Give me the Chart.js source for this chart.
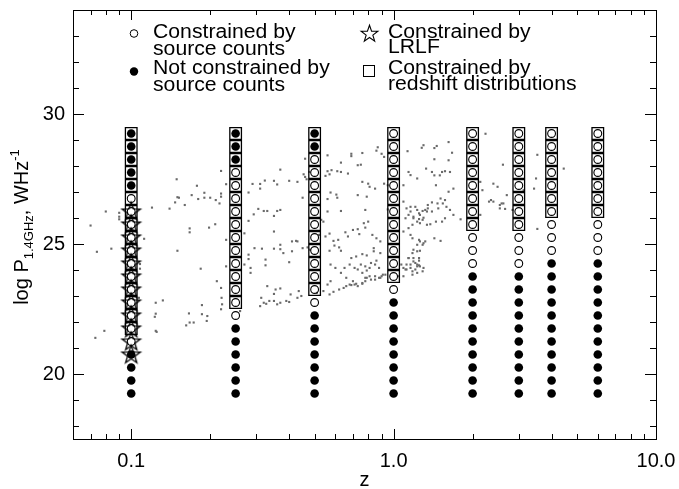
<!DOCTYPE html>
<html><head><meta charset="utf-8">
<script src="https://cdn.jsdelivr.net/npm/chart.js@4.4.1/dist/chart.umd.min.js"></script>
<style>html,body{margin:0;padding:0;background:#fff}canvas{display:block}</style>
</head><body>
<canvas id="c" width="679" height="489"></canvas>
<script>
// ---- data ----
const redshifts = [0.1, 0.25, 0.5, 1.0, 2, 3, 4, 6];
const powerLevels = [19.25, 19.75, 20.25, 20.75, 21.25, 21.75, 22.25, 22.75, 23.25, 23.75, 24.25,
  24.75, 25.25, 25.75, 26.25, 26.75, 27.25, 27.75, 28.25, 28.75, 29.25];
// range of log P constrained by source counts, per redshift
const countsLow  = [21.25, 22.25, 22.75, 23.25, 24.25, 24.25, 24.75, 24.75];
const countsHigh = [26.75, 27.75, 28.25, 29.25, 29.25, 29.25, 29.25, 29.25];
// range constrained by redshift distributions
const zdistLow  = [21.75, 22.75, 23.25, 23.75, 25.75, 25.75, 26.25, 26.25];
const zdistHigh = [29.25, 29.25, 29.25, 29.25, 29.25, 29.25, 29.25, 29.25];
// range constrained by the local radio luminosity function
const lrlfRedshift = 0.1;
const lrlfLow = 20.75;
const lrlfHigh = 26.25;
// axis ticks
const yTickValues = [20, 25, 30];
const xTickValues = [0.1, 1, 10];
const xTickLabels = ['0.1', '1.0', '10.0'];
// individual sources (z, log P)
const sources = [
[0.070,25.71],[0.074,24.70],[0.073,21.39],[0.079,21.66],[0.080,26.25],[0.084,24.82],[0.090,26.20],[0.090,26.05],[0.090,25.95],
[0.112,25.20],[0.108,24.23],[0.108,24.05],[0.107,22.93],[0.120,26.40],[0.124,22.74],[0.124,22.32],[0.123,22.20],[0.124,21.66],
[0.125,21.62],[0.132,22.83],[0.140,26.36],[0.147,26.60],[0.149,27.49],[0.150,26.80],[0.152,26.78],[0.150,24.74],[0.160,26.50],
[0.167,25.60],[0.167,25.45],[0.170,26.88],[0.178,27.24],[0.180,26.73],[0.184,24.05],[0.190,26.97],[0.190,26.78],[0.200,26.78],
[0.198,25.63],[0.209,25.76],[0.210,26.69],[0.217,26.56],[0.220,26.94],[0.220,26.82],[0.220,27.81],[0.230,27.30],[0.230,25.16],
[0.230,24.14],[0.212,23.57],[0.220,23.31],[0.221,22.93],[0.222,22.68],[0.220,22.49],[0.186,22.65],[0.186,22.30],[0.195,22.23],
[0.194,22.04],[0.173,21.98],[0.167,21.98],[0.162,21.87],[0.166,22.33],[0.260,22.42],
[0.87,28.72],[0.86,28.59],[0.90,28.47],[0.92,28.35],[1.30,28.80],[1.28,28.70],[1.13,28.57],[0.69,28.47],[0.69,28.38],[0.76,28.50],
[0.73,28.03],[0.75,28.05],[0.63,28.13],[0.67,27.71],[0.63,27.77],[0.61,27.80],[0.58,27.84],[0.56,27.80],[0.57,27.68],[0.55,27.62],
[0.56,28.41],[0.46,28.28],[0.37,27.86],[0.454,27.68],[0.46,27.58],[0.466,27.49],[0.477,27.77],[0.43,27.39],[0.40,27.43],[0.323,27.44],
[0.31,27.31],[0.29,27.31],[0.31,27.13],[0.35,27.43],[0.36,27.29],[0.28,26.98],[0.37,26.31],[0.305,26.35],[0.32,26.27],[0.33,26.27],
[0.35,26.08],[0.36,26.27],[0.293,26.14],[0.28,25.89],[0.45,26.78],[0.35,25.48],[0.295,24.84],[0.315,24.82],[0.35,24.82],[0.37,24.80],
[0.37,24.97],[0.38,24.65],[0.41,24.72],[0.41,25.10],[0.425,25.12],[0.43,25.10],[0.45,24.84],[0.325,24.40],[0.325,24.18],[0.40,24.30],
[0.28,24.59],[0.28,24.42],[0.27,25.41],[0.285,24.08],[0.285,23.89],[0.47,24.87],[0.48,24.78],[0.52,25.35],[0.55,25.29],[0.57,25.40],
[0.57,24.74],[0.595,24.94],[0.615,25.16],[0.655,25.45],[0.70,25.54],[0.73,25.57],[0.77,25.80],[0.80,25.86],[0.78,25.63],[0.74,25.38],
[0.67,25.29],[0.62,24.87],[0.63,24.74],[0.59,25.12],[0.83,25.35],[0.86,25.22],[0.89,25.10],[0.84,24.84],[0.76,27.39],[0.80,27.32],
[0.81,27.20],[0.85,27.13],[0.78,26.31],[0.73,26.88],[0.79,26.82],[0.575,26.98],[0.605,26.90],[0.61,26.78],[0.56,26.73],[0.56,26.25],
[0.63,26.27],[0.53,25.93],[0.54,25.86],
[0.313,22.93],[0.32,22.74],[0.336,22.81],[0.35,22.81],[0.36,22.68],[0.37,22.74],[0.39,22.81],[0.40,22.77],[0.43,22.93],[0.445,23.00],
[0.435,23.19],[0.405,23.06],[0.33,23.38],[0.355,23.25],[0.37,23.29],[0.35,23.08],[0.31,22.61],[0.327,22.70],[0.27,24.21],
[0.51,23.12],[0.54,23.19],[0.57,23.06],[0.59,23.16],[0.62,23.25],[0.645,23.31],[0.66,23.38],[0.68,23.44],[0.71,23.44],[0.73,23.38],
[0.76,23.47],[0.78,23.57],[0.79,23.70],[0.81,23.76],[0.85,23.63],[0.88,23.70],[0.90,23.76],[0.93,23.82],[0.66,23.70],[0.70,23.57],
[0.73,24.02],[0.76,23.89],[0.79,23.98],[0.81,24.08],[0.85,24.21],[0.88,24.08],[0.68,24.21],[0.65,24.08],[0.63,23.89],[0.575,23.57],
[0.56,23.44],[0.60,24.08],[0.575,24.21],[0.69,24.46],[0.72,24.52],[0.76,24.61],[0.86,24.36],[0.82,24.27],[0.72,23.47],[0.89,23.70],
[0.69,23.42],[0.76,23.50],[0.78,23.70],[0.82,23.63],[0.85,23.76],[0.91,23.82],[0.71,24.08],[0.75,24.21],[0.78,24.14],[0.79,24.56],
[0.84,24.72],[0.89,24.65],[1.07,24.21],[1.21,24.27],[1.25,24.18],[1.11,24.02],[1.18,23.95],[1.23,23.89],[1.14,24.46],[1.25,24.46],
[1.09,26.63],[1.12,26.37],[1.16,26.25],[1.19,26.05],[1.21,26.43],[1.23,26.31],[1.26,26.12],[1.29,25.93],[1.34,25.74],[1.23,25.86],
[1.18,25.74],[1.14,25.61],[1.11,25.99],[1.09,25.48],[1.18,25.22],[1.25,25.16],[1.29,24.97],[1.32,25.10],[1.23,24.72],[1.18,24.65],
[1.14,24.46],[1.19,24.33],[1.23,24.21],[1.26,24.14],[1.30,24.08],[1.12,24.21],[1.09,24.08],[1.16,24.08],[1.21,24.02],[1.18,23.82],
[1.09,23.76],[1.04,23.76],[1.33,27.90],[1.23,27.52],[1.14,27.77],[1.35,26.50],[0.95,27.26],[0.92,27.32],[0.95,26.33],
[1.43,28.69],[1.46,28.77],[1.62,28.92],[1.67,28.51],[1.43,28.26],[1.62,28.22],[1.40,27.77],[1.43,27.64],[1.50,27.64],[1.53,27.77],
[1.57,27.80],[1.64,27.77],[1.16,27.65],[1.69,27.13],[1.62,27.01],[1.45,27.26],[1.09,27.26],[1.51,26.75],[1.57,26.69],[1.54,26.56],
[1.47,26.56],[1.40,26.60],[1.35,26.37],[1.32,26.31],[1.29,26.27],[1.25,26.18],[1.16,26.43],[1.14,26.12],[1.19,25.99],[1.25,25.96],
[1.30,26.01],[1.34,26.25],[1.40,26.25],[1.48,26.37],[1.59,26.43],[1.64,26.31],[1.69,26.12],[1.80,25.95],[1.57,25.99],[1.53,25.86],
[1.45,25.86],[1.38,25.76],[1.26,25.80],[1.26,25.10],[1.30,25.03],[1.23,24.97],[1.19,24.78],[1.26,24.74],[1.43,25.22],[1.51,25.12],
[1.16,25.35],[1.16,24.21],[1.23,24.14],[1.12,24.02],[1.19,24.46],[1.25,24.36],[1.29,23.95],
[2.24,29.24],[2.61,28.05],[3.53,28.43],[4.45,27.90],[2.14,27.39],[2.40,27.32],[2.49,27.20],[2.18,27.07],[2.31,26.63],[2.40,26.63],
[2.54,26.50],[2.62,26.56],[2.70,26.88],[2.66,26.35],[3.43,27.13],[3.49,27.52],[3.53,25.58],[2.14,26.12],[2.35,26.69],[2.58,26.56],
[2.54,26.37],[2.84,26.31],[3.13,27.07]
];

// ---- build point tables ----
const openPts = [], filledPts = [], squarePts = [], starPts = [];
redshifts.forEach((z, i) => {
  powerLevels.forEach(p => {
    if (p >= countsLow[i] && p <= countsHigh[i]) openPts.push({x: z, y: p});
    else filledPts.push({x: z, y: p});
    if (p >= zdistLow[i] && p <= zdistHigh[i]) squarePts.push({x: z, y: p});
  });
});
powerLevels.forEach(p => { if (p >= lrlfLow && p <= lrlfHigh) starPts.push({x: lrlfRedshift, y: p}); });
const sourcePts = sources.map(s => ({x: s[0], y: s[1]}));

function starPath(ctx, cx, cy, R) {
  const r = R * 0.4;
  ctx.beginPath();
  for (let k = 0; k < 10; k++) {
    const a = -Math.PI / 2 + k * Math.PI / 5;
    const rr = k % 2 === 0 ? R : r;
    const px = cx + rr * Math.cos(a), py = cy + rr * Math.sin(a);
    if (k === 0) ctx.moveTo(px, py); else ctx.lineTo(px, py);
  }
  ctx.closePath();
}
function makeStar(R) {
  const s = 2 * Math.ceil(R) + 4;
  const c = document.createElement('canvas');
  c.width = s; c.height = s;
  const g = c.getContext('2d');
  g.strokeStyle = '#000'; g.lineWidth = 1.3;
  starPath(g, s / 2, s / 2 + 0.5, R);
  g.stroke();
  return c;
}
const starImg = makeStar(9.6);

const FONT = '"Liberation Sans", Arial, Helvetica, sans-serif';

const decor = {
  id: 'decor',
  afterDatasetsDraw(chart) {
    const ctx = chart.ctx, xs = chart.scales.x, ys = chart.scales.y, a = chart.chartArea;
    ctx.save();
    ctx.strokeStyle = '#000'; ctx.lineWidth = 1;
    ctx.strokeRect(Math.round(a.left) + 0.5, Math.round(a.top) + 0.5, Math.round(a.right - a.left), Math.round(a.bottom - a.top));
    ctx.beginPath();
    for (let v = 18; v <= 33; v++) {
      const y = Math.round(ys.getPixelForValue(v)) + 0.5;
      const len = (v % 5 === 0) ? 11 : 6;
      ctx.moveTo(a.left, y); ctx.lineTo(a.left + len, y);
      ctx.moveTo(a.right, y); ctx.lineTo(a.right - len, y);
    }
    const minors = [0.07, 0.08, 0.09, 0.2, 0.3, 0.4, 0.5, 0.6, 0.7, 0.8, 0.9, 2, 3, 4, 5, 6, 7, 8, 9];
    minors.concat(xTickValues).forEach(v => {
      const x = Math.round(xs.getPixelForValue(v)) + 0.5;
      const len = xTickValues.includes(v) ? 10 : 5;
      ctx.moveTo(x, a.bottom); ctx.lineTo(x, a.bottom - len);
      ctx.moveTo(x, a.top); ctx.lineTo(x, a.top + len);
    });
    ctx.stroke();

    ctx.fillStyle = '#000';
    ctx.font = '20px ' + FONT;
    ctx.textAlign = 'right'; ctx.textBaseline = 'middle';
    yTickValues.forEach(v => ctx.fillText(String(v), a.left - 8, ys.getPixelForValue(v)));
    ctx.textAlign = 'center'; ctx.textBaseline = 'alphabetic';
    xTickValues.forEach((v, i) => ctx.fillText(xTickLabels[i], xs.getPixelForValue(v), 467));
    ctx.fillText('z', (a.left + a.right) / 2, 486);

    // y title
    ctx.save();
    ctx.translate(28, 227);
    ctx.rotate(-Math.PI / 2);
    const parts = [
      {t: 'log P', f: '20px ', dy: 0},
      {t: '1.4GHz', f: '13px ', dy: 5},
      {t: ', WHz', f: '20px ', dy: 0},
      {t: '-1', f: '13px ', dy: -9}
    ];
    let total = 0;
    parts.forEach(p => { ctx.font = p.f + FONT; p.w = ctx.measureText(p.t).width; total += p.w; });
    let cx = -total / 2;
    ctx.textAlign = 'left';
    parts.forEach(p => { ctx.font = p.f + FONT; ctx.fillText(p.t, cx, p.dy); cx += p.w; });
    ctx.restore();

    // legend
    ctx.font = '20px ' + FONT;
    ctx.textAlign = 'left';
    const lines = [
      [153, 38, 'Constrained by'], [153, 55, 'source counts'],
      [153, 74, 'Not constrained by'], [153, 91, 'source counts'],
      [388, 38, 'Constrained by'], [388, 53, 'LRLF'],
      [388, 74, 'Constrained by'], [388, 90, 'redshift distributions']
    ];
    lines.forEach(l => {
      ctx.save();
      ctx.translate(l[0], l[1]);
      ctx.scale(1.06, 1);
      ctx.fillText(l[2], 0, 0);
      ctx.restore();
    });
    ctx.lineWidth = 1;
    ctx.beginPath(); ctx.arc(134, 33.5, 3.8, 0, 2 * Math.PI); ctx.stroke();
    ctx.beginPath(); ctx.arc(134, 71.5, 4.2, 0, 2 * Math.PI); ctx.fill();
    ctx.lineWidth = 1.1;
    starPath(ctx, 369.5, 34, 8.8); ctx.stroke();
    ctx.lineWidth = 1;
    ctx.strokeRect(363.5, 65.5, 11, 11);
    ctx.restore();
  }
};

new Chart(document.getElementById('c'), {
  type: 'scatter',
  data: {
    datasets: [
      {label: 'LRLF', data: starPts, pointStyle: starImg, pointRadius: 9, order: 1},
      {label: 'open', data: openPts, pointStyle: 'circle', pointRadius: 3.9, borderColor: '#000', borderWidth: 1.1,
       backgroundColor: 'rgba(0,0,0,0)', order: 2},
      {label: 'filled', data: filledPts, pointStyle: 'circle', pointRadius: 4.3, borderColor: '#000', borderWidth: 0,
       backgroundColor: '#000', order: 3},
      {label: 'zdist', data: squarePts, pointStyle: 'rect', pointRadius: 8.2, borderColor: '#000', borderWidth: 1.3,
       backgroundColor: 'rgba(0,0,0,0)', order: 4},
      {label: 'sources', data: sourcePts, pointStyle: 'rect', pointRadius: 1.5, borderWidth: 0,
       backgroundColor: '#6a6a6a', order: 5}
    ]
  },
  options: {
    responsive: false,
    animation: false,
    events: [],
    layout: {padding: {left: 73, right: 23, top: 7, bottom: 50}},
    plugins: {legend: {display: false}, tooltip: {enabled: false}},
    scales: {
      x: {type: 'logarithmic', min: 0.06, max: 10, display: false},
      y: {type: 'linear', min: 17.5, max: 34, display: false}
    }
  },
  plugins: [decor]
});
</script>
</body></html>
